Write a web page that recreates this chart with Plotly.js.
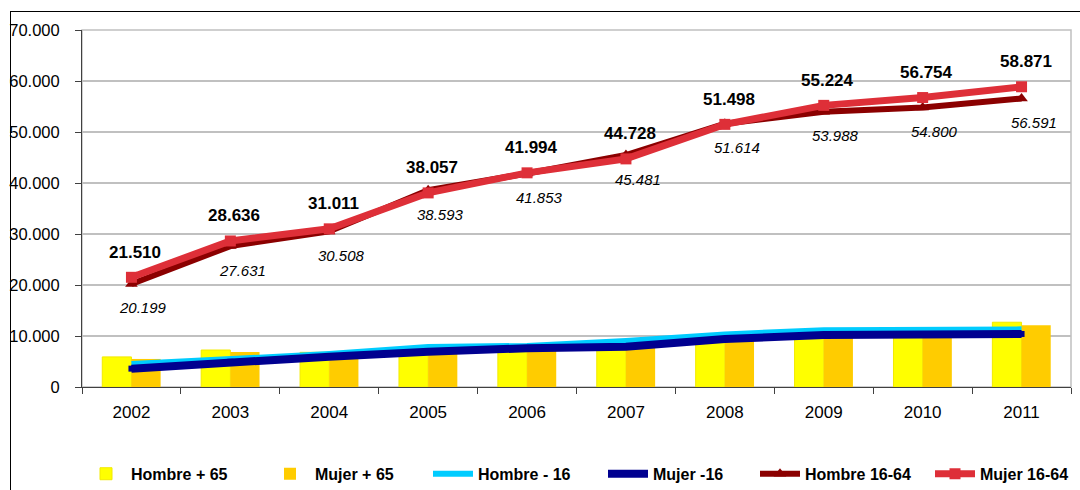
<!DOCTYPE html>
<html>
<head>
<meta charset="utf-8">
<script src="https://cdn.plot.ly/plotly-3.0.1.min.js"></script>
<style>
  html, body { margin: 0; padding: 0; background: #fff; }
  #wrap { position: relative; width: 1080px; height: 490px; overflow: hidden; }
  #chart { position: absolute; left: 0; top: 0; width: 1080px; height: 490px; }
  #frame { position: absolute; left: 10px; top: 11px; width: 1100px; height: 500px;
           border-left: 1px solid #000; border-top: 1px solid #000; pointer-events: none; }
</style>
</head>
<body>
<div id="wrap">
  <div id="chart"></div>
  <div id="frame"></div>
</div>
<script>
// ---- data ----
const years = ['2002','2003','2004','2005','2006','2007','2008','2009','2010','2011'];
const hombreMas65 = [5900, 7250, 6800, 7300, 7500, 7800, 9500, 10300, 10300, 12700];
const mujerMas65  = [5500, 6850, 6200, 7100, 7400, 7700, 9600, 10400, 10300, 12100];
const hombreMenos16 = [4500, 5500, 6450, 7850, 8050, 9000, 10300, 11150, 11200, 11300];
const mujerMenos16  = [3600, 4950, 5950, 6900, 7600, 7900, 9400, 10200, 10200, 10400];
const hombre1664 = [20199, 27631, 30508, 38593, 41853, 45481, 51614, 53988, 54800, 56591];
const mujer1664  = [21510, 28636, 31011, 38057, 41994, 44728, 51498, 55224, 56754, 58871];
const yTicks = [0, 10000, 20000, 30000, 40000, 50000, 60000, 70000];

const sans = '"Liberation Sans", Arial, sans-serif';

function fmt(v) {
  return String(v).replace(/\B(?=(\d{3})+(?!\d))/g, '.');
}

const traces = [
  { type: 'bar', name: 'Hombre + 65', x: years, y: hombreMas65, legend: 'legend',
    marker: { color: '#FFFF00', line: { color: '#F2EA00', width: 1 } } },
  { type: 'bar', name: 'Mujer + 65', x: years, y: mujerMas65, legend: 'legend2',
    marker: { color: '#FFCC00', line: { width: 0 } } },
  { type: 'scatter', mode: 'lines', name: 'Hombre - 16', x: years, y: hombreMenos16, legend: 'legend3',
    line: { color: '#00CCFF', width: 6 } },
  { type: 'scatter', mode: 'lines+markers', name: 'Mujer -16', x: years, y: mujerMenos16, legend: 'legend4',
    line: { color: '#000090', width: 8 },
    marker: { symbol: 'square', size: 6, color: '#000090' } },
  { type: 'scatter', mode: 'lines+markers', name: 'Hombre 16-64', x: years, y: hombre1664, legend: 'legend5',
    line: { color: '#8B0000', width: 6 },
    marker: { symbol: 'triangle-up', size: 11, color: '#8B0000' } },
  { type: 'scatter', mode: 'lines+markers', name: 'Mujer 16-64', x: years, y: mujer1664, legend: 'legend6',
    line: { color: '#DE2F38', width: 7 },
    marker: { symbol: 'square', size: 11, color: '#DE2F38' } }
];

const annotations = [];
years.forEach((yr, i) => {
  annotations.push({
    x: i, y: mujer1664[i], xref: 'x', yref: 'y',
    text: fmt(mujer1664[i]), showarrow: false,
    xshift: 4, yshift: 25,
    font: { family: sans, size: 17, color: '#000', weight: 'bold' }
  });
  annotations.push({
    x: i, y: hombre1664[i], xref: 'x', yref: 'y',
    text: '<i>' + fmt(hombre1664[i]) + '</i>', showarrow: false,
    xshift: 12, yshift: -24,
    font: { family: sans, size: 15, color: '#000' }
  });
});

const W = 1080;
function legendAt(px) {
  return {
    orientation: 'h', xref: 'container', yref: 'container',
    x: px / W, xanchor: 'left', y: 0.033, yanchor: 'middle',
    font: { family: sans, size: 16, color: '#000', weight: 'bold' },
    itemwidth: 40, bgcolor: 'rgba(0,0,0,0)', borderwidth: 0
  };
}

const layout = {
  width: W, height: 490,
  margin: { l: 82, r: 9, t: 30, b: 103, pad: 0, autoexpand: false },
  paper_bgcolor: '#fff', plot_bgcolor: '#fff',
  separators: ',.',
  barmode: 'group', bargap: 0.41, bargroupgap: 0,
  showlegend: true,
  legend: legendAt(81),
  legend2: legendAt(265),
  legend3: legendAt(428),
  legend4: legendAt(603),
  legend5: legendAt(755),
  legend6: legendAt(930),
  xaxis: {
    type: 'category', categoryorder: 'array', categoryarray: years,
    range: [-0.5, years.length - 0.5], autorange: false,
    showline: true, linecolor: '#404040', linewidth: 1,
    ticks: 'outside', tickson: 'boundaries', ticklen: 6, tickcolor: '#404040',
    showgrid: false, zeroline: false, tickangle: 0,
    tickfont: { family: sans, size: 17, color: '#000' },
    ticklabelstandoff: 10
  },
  yaxis: {
    range: [0, 70000], autorange: false, tickvals: yTicks, ticktext: yTicks.map(fmt),
    showline: true, linecolor: '#404040', linewidth: 1,
    ticks: 'outside', ticklen: 6, tickcolor: '#404040',
    showgrid: true, gridcolor: '#C0C0C0', gridwidth: 1.5, zeroline: false,
    tickfont: { family: sans, size: 16.5, color: '#000' },
    ticklabelstandoff: 12
  },
  shapes: [{
    type: 'rect', xref: 'paper', yref: 'paper', x0: 0, x1: 1, y0: 0, y1: 1,
    line: { color: '#C0C0C0', width: 1.5 }, layer: 'below'
  }],
  annotations: annotations
};

Plotly.newPlot('chart', traces, layout, { displayModeBar: false, staticPlot: true });
</script>
</body>
</html>
